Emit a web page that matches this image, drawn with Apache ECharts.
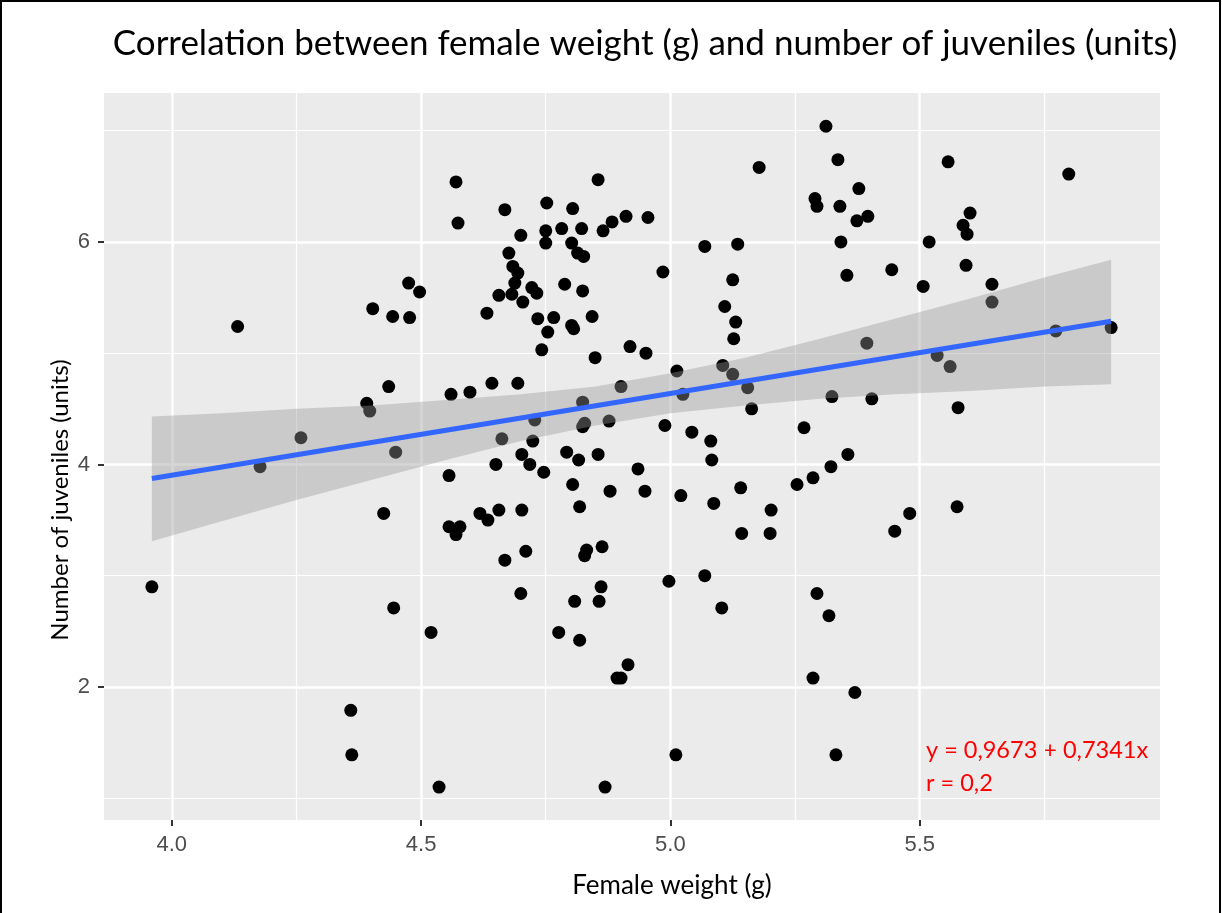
<!DOCTYPE html>
<html>
<head>
<meta charset="utf-8">
<title>Female weight vs number of juveniles</title>
<script src="https://cdn.jsdelivr.net/npm/echarts@6/dist/echarts.min.js"></script>
<style>
  html, body { margin: 0; padding: 0; background: #fff; }
  #chart { width: 1222px; height: 913px; }
</style>
</head>
<body>
<div id="chart"></div>
<script>
// Female weight (g), one value per female
const weights = [
    3.960, 4.132, 4.177, 4.259, 4.359, 4.361, 4.391, 4.397, 4.403, 4.435,
    4.425, 4.443, 4.449, 4.445, 4.475, 4.497, 4.477, 4.520, 4.536, 4.560,
    4.556, 4.556, 4.578, 4.570, 4.570, 4.574, 4.668, 4.700, 4.676, 4.684,
    4.694, 4.688, 4.682, 4.656, 4.632, 4.704, 4.598, 4.642, 4.694, 4.662,
    4.650, 4.702, 4.618, 4.634, 4.656, 4.702, 4.710, 4.668, 4.700, 4.752,
    4.750, 4.750, 4.782, 4.804, 4.802, 4.722, 4.732, 4.788, 4.734, 4.766,
    4.754, 4.742, 4.802, 4.806, 4.728, 4.724, 4.718, 4.746, 4.792, 4.804,
    4.776, 4.808, 4.822, 4.814, 4.826, 4.855, 4.865, 4.883, 4.824, 4.843,
    4.849, 4.824, 4.828, 4.824, 4.877, 4.816, 4.855, 4.818, 4.879, 4.832,
    4.828, 4.863, 4.861, 4.857, 4.818, 4.915, 4.893, 4.901, 4.869, 4.901,
    4.911, 4.955, 4.919, 4.951, 4.935, 4.949, 4.985, 4.989, 4.997, 5.013,
    5.025, 5.021, 5.011, 5.043, 5.081, 5.083, 5.087, 5.069, 5.103, 5.069,
    5.109, 5.125, 5.131, 5.127, 5.105, 5.125, 5.135, 5.155, 5.163, 5.141,
    5.143, 5.178, 5.200, 5.202, 5.254, 5.268, 5.286, 5.286, 5.294, 5.318,
    5.290, 5.294, 5.312, 5.322, 5.356, 5.324, 5.332, 5.336, 5.340, 5.342,
    5.354, 5.370, 5.374, 5.378, 5.394, 5.396, 5.404, 5.444, 5.450, 5.480,
    5.507, 5.519, 5.535, 5.557, 5.561, 5.575, 5.577, 5.587, 5.593, 5.595,
    5.601, 5.645, 5.645, 5.773, 5.799, 5.884
];

// Number of juveniles (units), same order as weights
const juveniles = [
    2.90, 5.24, 3.98, 4.24, 1.79, 1.39, 4.55, 4.48, 5.40, 4.70,
    3.56, 5.33, 4.11, 2.71, 5.63, 5.55, 5.32, 2.49, 1.10, 4.63,
    3.90, 3.44, 3.44, 3.37, 6.54, 6.17, 6.29, 6.06, 5.90, 5.78,
    5.72, 5.63, 5.53, 5.52, 5.36, 5.46, 4.65, 4.73, 4.73, 4.23,
    4.00, 4.09, 3.56, 3.50, 3.59, 3.59, 3.22, 3.14, 2.84, 6.35,
    6.10, 5.99, 6.12, 6.30, 5.99, 5.59, 5.54, 5.62, 5.31, 5.32,
    5.19, 5.03, 5.25, 5.22, 4.40, 4.21, 4.00, 3.93, 4.11, 3.82,
    2.49, 2.77, 6.12, 5.90, 5.87, 6.56, 6.10, 6.18, 5.56, 5.33,
    4.96, 4.56, 4.37, 4.34, 4.39, 4.04, 4.09, 3.62, 3.76, 3.23,
    3.18, 3.26, 2.90, 2.77, 2.42, 2.20, 2.08, 2.08, 1.10, 4.70,
    6.23, 6.22, 5.06, 5.00, 3.96, 3.76, 5.73, 4.35, 2.95, 4.84,
    4.63, 3.72, 1.39, 4.29, 4.21, 4.04, 3.65, 3.00, 2.71, 5.96,
    5.42, 5.66, 5.28, 5.13, 4.89, 4.81, 5.98, 4.69, 4.50, 3.79,
    3.38, 6.67, 3.38, 3.59, 3.82, 4.33, 3.88, 2.08, 2.84, 2.64,
    6.39, 6.32, 7.04, 3.98, 4.09, 4.61, 1.39, 6.74, 6.32, 6.00,
    5.70, 1.95, 6.19, 6.48, 5.09, 6.23, 4.59, 5.75, 3.40, 3.56,
    5.60, 6.00, 4.98, 6.72, 4.88, 3.62, 4.51, 6.15, 5.79, 6.07,
    6.26, 5.62, 5.46, 5.20, 6.61, 5.23
];

// Fitted line y = 0,9673 + 0,7341x, drawn across the data range
const fitX = [3.96, 5.884];
const fitY = [3.874, 5.287];

// Confidence band around the fit, read at a few weights
const bandX     = [3.96, 4.10, 4.25, 4.40, 4.55, 4.70, 4.85, 5.00, 5.15, 5.30, 5.45, 5.60, 5.75, 5.884];
const bandLower = [3.31, 3.49, 3.68, 3.86, 4.04, 4.21, 4.35, 4.46, 4.53, 4.59, 4.63, 4.66, 4.70, 4.72];
const bandUpper = [4.43, 4.46, 4.50, 4.53, 4.58, 4.63, 4.70, 4.82, 4.96, 5.13, 5.31, 5.49, 5.68, 5.84];

// Axis extents and ticks
const xRange = [3.864, 5.982];
const yRange = [0.804, 7.339];
const xTicks = [4.0, 4.5, 5.0, 5.5];
const xMinorTicks = [4.25, 4.75, 5.25, 5.75];
const yTicks = [2, 4, 6];
const yMinorTicks = [1, 3, 5, 7];

const chart = echarts.init(document.getElementById('chart'));

const points = weights.map((w, i) => [w, juveniles[i]]);
const fitLine = fitX.map((x, i) => [x, fitY[i]]);

const tickStyle = { color: '#333333', width: 2 };
const labelStyle = { color: '#4D4D4D', fontSize: 22, fontFamily: 'Liberation Sans' };
const textFont = 'Lato';

const option = {
    animation: false,
    backgroundColor: '#ffffff',
    grid: {
        left: 104, right: 62, top: 93, bottom: 93,
        show: true, backgroundColor: '#EBEBEB', borderWidth: 0
    },
    xAxis: [
        {
            type: 'value', min: xRange[0], max: xRange[1],
            axisLine: { show: false },
            axisTick: { show: true, customValues: xTicks, length: 6, lineStyle: tickStyle },
            axisLabel: Object.assign({ customValues: xTicks, margin: 14, formatter: v => v.toFixed(1) }, labelStyle),
            splitLine: { show: true, lineStyle: { color: '#ffffff', width: 2.5 } }
        },
        {
            // minor grid only
            type: 'value', min: xRange[0], max: xRange[1],
            axisLine: { show: false },
            axisTick: { show: false, customValues: xMinorTicks },
            axisLabel: { show: false, customValues: xMinorTicks },
            splitLine: { show: true, lineStyle: { color: '#ffffff', width: 1.2 } }
        }
    ],
    yAxis: [
        {
            type: 'value', min: yRange[0], max: yRange[1],
            axisLine: { show: false },
            axisTick: { show: true, customValues: yTicks, length: 6, lineStyle: tickStyle },
            axisLabel: Object.assign({ customValues: yTicks, margin: 14 }, labelStyle),
            splitLine: { show: true, lineStyle: { color: '#ffffff', width: 2.5 } }
        },
        {
            type: 'value', min: yRange[0], max: yRange[1],
            axisLine: { show: false },
            axisTick: { show: false, customValues: yMinorTicks },
            axisLabel: { show: false, customValues: yMinorTicks },
            splitLine: { show: true, lineStyle: { color: '#ffffff', width: 1.2 } }
        }
    ],
    series: [
        {
            type: 'scatter',
            data: points,
            symbolSize: 13,
            itemStyle: { color: '#000000', opacity: 1 },
            z: 2
        },
        {
            // grey confidence ribbon, drawn over the points like geom_smooth
            type: 'custom',
            data: [[bandX[0], bandUpper[0]]],
            z: 3,
            silent: true,
            renderItem: function (params, api) {
                const top = bandX.map((x, i) => api.coord([x, bandUpper[i]]));
                const bottom = bandX.map((x, i) => api.coord([x, bandLower[i]])).reverse();
                return {
                    type: 'polygon',
                    shape: { points: top.concat(bottom) },
                    style: { fill: 'rgba(153,153,153,0.4)' }
                };
            }
        },
        {
            type: 'line',
            data: fitLine,
            symbol: 'none',
            lineStyle: { color: '#3366FF', width: 5 },
            z: 4
        }
    ],
    graphic: [
        {
            type: 'rect',
            shape: { x: 1, y: 1, width: 1219, height: 1000 },
            style: { fill: 'none', stroke: '#000', lineWidth: 2 },
            silent: true
        },
        {
            type: 'text', x: 645, y: 44,
            style: {
                text: 'Correlation between female weight (g) and number of juveniles (units)',
                font: '35px ' + textFont, fill: '#000', align: 'center', verticalAlign: 'middle'
            }
        },
        {
            type: 'text', x: 60, y: 500, rotation: Math.PI / 2,
            style: {
                text: 'Number of juveniles (units)',
                font: '24px ' + textFont, fill: '#000', align: 'center', verticalAlign: 'middle'
            }
        },
        {
            type: 'text', x: 672, y: 886,
            style: {
                text: 'Female weight (g)',
                font: '26px ' + textFont, fill: '#000', align: 'center', verticalAlign: 'middle'
            }
        },
        {
            type: 'text', x: 926, y: 750,
            style: {
                text: 'y = 0,9673 + 0,7341x',
                font: '23.5px ' + textFont, fill: '#FF0000', align: 'left', verticalAlign: 'middle'
            }
        },
        {
            type: 'text', x: 926, y: 783,
            style: {
                text: 'r = 0,2',
                font: '23.5px ' + textFont, fill: '#FF0000', align: 'left', verticalAlign: 'middle'
            }
        }
    ]
};

chart.setOption(option);
</script>
</body>
</html>
